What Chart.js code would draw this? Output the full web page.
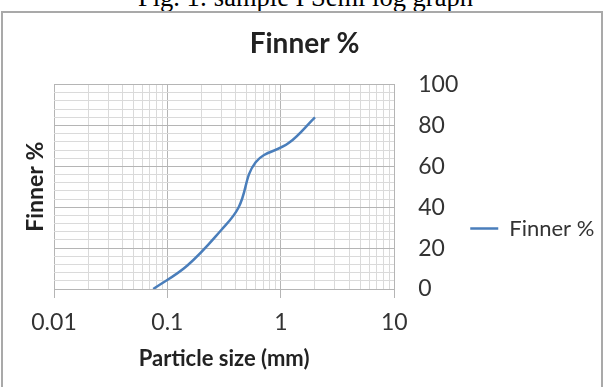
<!DOCTYPE html>
<html>
<head>
<meta charset="utf-8">
<script src="https://cdn.jsdelivr.net/npm/chart.js@4"></script>
<style>
  body { margin: 0; width: 605px; height: 387px; overflow: hidden; position: relative; background: #fff; }
  #cap { position: absolute; left: 138px; top: -16px; font: 26.5px/26.5px "Liberation Serif", serif; color: #000; white-space: nowrap; }
  #frame { position: absolute; left: 1px; top: 11px; width: 598px; height: 400px; border: 2px solid #a9a9a9; }
  #wrap { position: absolute; left: 3px; top: 13px; width: 599px; height: 374px; }
</style>
</head>
<body>
<div id="cap">Fig. 1: sample I Semi log graph</div>
<div id="frame"></div>
<div id="wrap"><canvas id="chart"></canvas></div>
<script>
const particleSize = [0.075, 0.15, 0.3, 0.425, 0.6, 1.18, 2.0]
const finnerPct = [0, 11.5, 29, 40, 62, 71.5, 84]
const decadeLabels = ['0.01', '0.1', '1', '10']
const yLabels = [0, 20, 40, 60, 80, 100]

const majorGrid = '#b5b5b5'
const minorGrid = '#dadada'
const textDark = '#222'
const textTick = '#333'

// grid positions on the log axis: 1..9 in each decade
const logGrid = []
decadeLabels.forEach((d, i) => {
    const base = parseFloat(d)
    if (i === decadeLabels.length - 1) { logGrid.push(base); return }
    for (let k = 1; k <= 9; k++) logGrid.push(+(base * k).toPrecision(6))
})
const decadeOf = v => decadeLabels.find(d => Math.abs(parseFloat(d) - v) < 1e-9)

// y title sits on the left while the y axis is on the right,
// legend pushed down and title nudged left to where excel put them
const leftTitle = {
    id: 'leftTitle',
    afterLayout(chart) {
        chart.legend.top += 36
        chart.legend.bottom += 36
        chart.titleBlock.left -= 23
        chart.titleBlock.right -= 23
    },
    afterDraw(chart) {
        const { ctx, chartArea } = chart
        ctx.save()
        ctx.translate(33, (chartArea.top + chartArea.bottom) / 2)
        ctx.rotate(-Math.PI / 2)
        ctx.font = 'bold 23px Lato'
        ctx.fillStyle = textDark
        ctx.textAlign = 'center'
        ctx.textBaseline = 'middle'
        ctx.fillText('Finner %', 0, 0)
        ctx.restore()
    }
}

new Chart(document.querySelector('#chart'), {
    type: 'scatter',
    data: {
        datasets: [{
            label: 'Finner %',
            data: particleSize.map((x, i) => ({ x: x, y: finnerPct[i] })),
            showLine: true,
            borderColor: '#4a7ebb',
            backgroundColor: '#4a7ebb',
            borderWidth: 2.5,
            pointRadius: 0,
            tension: 0.4
        }]
    },
    options: {
        responsive: true,
        maintainAspectRatio: false,
        animation: false,
        layout: { padding: { left: 51, right: 1, top: 0, bottom: 15 } },
        plugins: {
            title: {
                display: true,
                text: 'Finner %',
                color: textDark,
                font: { family: 'Lato', size: 28, weight: 'bold' },
                padding: { top: 14, bottom: 24 }
            },
            legend: {
                position: 'right',
                labels: {
                    usePointStyle: true,
                    pointStyle: 'line',
                    pointStyleWidth: 28,
                    color: textTick,
                    font: { family: 'Lato', size: 22 },
                    padding: 6
                }
            },
            tooltip: { enabled: false }
        },
        scales: {
            x: {
                type: 'logarithmic',
                min: 0.01,
                max: 10,
                afterBuildTicks: axis => { axis.ticks = logGrid.map(v => ({ value: v })) },
                ticks: {
                    autoSkip: false,
                    maxRotation: 0,
                    color: textTick,
                    font: { family: 'Lato', size: 23 },
                    padding: 11,
                    callback: v => decadeOf(v) || ''
                },
                grid: {
                    color: c => decadeOf(c.tick.value) ? majorGrid : minorGrid,
                    tickColor: c => decadeOf(c.tick.value) ? majorGrid : 'rgba(0,0,0,0)',
                    tickLength: 9
                },
                border: { color: majorGrid },
                title: {
                    display: true,
                    text: 'Particle size (mm)',
                    color: textDark,
                    font: { family: 'Lato', size: 22, weight: 'bold' },
                    padding: { top: -2, bottom: 0 }
                }
            },
            y: {
                position: 'right',
                min: 0,
                max: 100,
                ticks: {
                    stepSize: 4,
                    autoSkip: false,
                    color: textTick,
                    font: { family: 'Lato', size: 23 },
                    padding: 6,
                    callback: v => yLabels.includes(v) ? String(v) : ''
                },
                grid: {
                    color: c => c.tick.value % 20 === 0 ? majorGrid : minorGrid,
                    tickColor: 'rgba(0,0,0,0)',
                    tickLength: 18
                },
                border: { color: majorGrid }
            }
        }
    },
    plugins: [leftTitle]
})
</script>
</body>
</html>
